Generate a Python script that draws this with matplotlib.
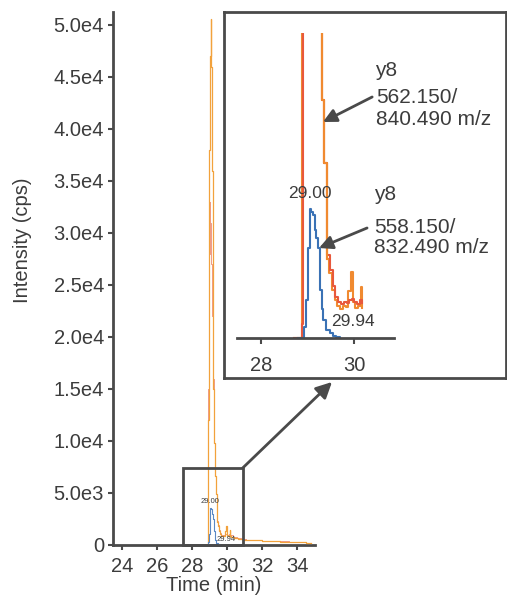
import numpy as np
import matplotlib
matplotlib.use("Agg")
import matplotlib.pyplot as plt
from matplotlib.patches import Rectangle

plt.rcParams['font.family'] = ['Liberation Sans', 'DejaVu Sans']

# ---- data ----
# orange trace (y8 562.150/840.490 m/z)
o_time = [28.70, 28.88, 28.95, 28.98, 29.02, 29.06, 29.10, 29.14, 29.18, 29.22,
          29.26, 29.31, 29.36, 29.42, 29.47, 29.52, 29.58, 29.64, 29.70, 29.76,
          29.82, 29.88, 29.93, 29.97, 30.02, 30.08, 30.14, 30.18, 30.24, 30.40,
          30.60, 30.90, 31.20, 31.60, 32.00, 32.50, 33.00, 33.50, 34.00, 34.50, 34.80]
o_int = [0, 12000, 26000, 38000, 47000, 50600, 46000, 36000, 24000, 15000,
         9800, 6630, 4880, 2200, 1800, 1350, 1050, 880, 820, 900,
         860, 1300, 1840, 1000, 850, 900, 1420, 850, 750, 650,
         580, 520, 480, 450, 400, 380, 330, 300, 260, 220, 180]

# red trace (y8 558.150/832.490 m/z)
r_time = [28.70, 28.88, 28.91, 28.95, 29.00, 29.05, 29.10, 29.15, 29.20, 29.26,
          29.31, 29.36, 29.42, 29.48, 29.54, 29.60, 29.66, 29.72, 29.78, 29.84,
          29.90, 29.95, 30.00, 30.06, 30.12, 30.17, 30.22, 30.35, 30.55, 30.80,
          31.10, 31.50, 32.00, 32.50, 33.00, 33.50, 34.00, 34.50, 34.80]
r_int = [0, 400, 15000, 28000, 33000, 31000, 27000, 22000, 16000, 9800,
         6630, 4880, 2300, 1900, 1450, 1150, 1000, 950, 1000, 980,
         1050, 1100, 1000, 960, 1050, 980, 950, 750, 650, 560,
         500, 460, 420, 380, 340, 300, 270, 230, 200]

# blue trace
b_time = [28.80, 28.92, 28.96, 29.01, 29.05, 29.08, 29.11, 29.16, 29.19, 29.22,
          29.27, 29.30, 29.33, 29.39, 29.48, 29.55, 29.62, 29.70]
b_int = [0, 300, 1060, 2510, 3600, 3500, 3430, 3010, 2800, 2510,
         1340, 800, 500, 220, 140, 60, 20, 0]

# retention time labels
rt_text = ["29.00", "29.94"]
rt_x = [29.00, 29.92]
rt_y = [4150, 570]

yticks = [0, 5000, 10000, 15000, 20000, 25000, 30000, 35000, 40000, 45000, 50000]
ytick_labels = ["0", "5.0e3", "1.0e4", "1.5e4", "2.0e4", "2.5e4", "3.0e4",
                "3.5e4", "4.0e4", "4.5e4", "5.0e4"]
xticks = [24, 26, 28, 30, 32, 34]
inset_xticks = [28, 30]

# zoom window
zx0, zx1, zy1 = 27.48, 30.88, 7400

grey = '#4a4a4a'
txt = '#3c3c3c'

fig = plt.figure(figsize=(5.07, 5.99), dpi=100)

# ---- main chromatogram ----
ax = fig.add_axes([113/507, 1-545/599, 202/507, 533/599])
ax.plot(r_time, r_int, drawstyle='steps-post', color='#f09a88', lw=0.7, zorder=2)
ax.plot(o_time, o_int, drawstyle='steps-post', color='#f2a23c', lw=0.9, zorder=3)
ax.plot(b_time, b_int, drawstyle='steps-post', color='#5a88c4', lw=0.8, zorder=4)
for s, x, y in zip(rt_text, rt_x, rt_y):
    ax.text(x, y, s, fontsize=5.5, color=txt, ha='center', va='center', zorder=5)

ax.set_xlim(23.5, 35.0)
ax.set_ylim(0, 51250)
ax.set_xticks(xticks)
ax.set_yticks(yticks)
ax.set_yticklabels(ytick_labels)
for s in ['top', 'right']:
    ax.spines[s].set_visible(False)
for s in ['left', 'bottom']:
    ax.spines[s].set_color(grey)
    ax.spines[s].set_linewidth(2)
ax.tick_params(axis='both', colors=grey, labelcolor=txt, labelsize=14.5,
               length=3.5, width=1.5)
ax.tick_params(axis='y', pad=3)
ax.tick_params(axis='x', pad=5)
ax.set_xlabel("Time (min)", fontsize=14.5, color=txt)
ax.set_ylabel("Intensity (cps)", fontsize=14.5, color=txt)
ax.xaxis.set_label_coords(0.5, -0.058)
ax.yaxis.set_label_coords(-0.40, 0.572)

ax.add_patch(Rectangle((zx0, 0), zx1 - zx0, zy1, fill=False, ec=grey, lw=2,
                       clip_on=False, zorder=6))

# arrow from zoom box to the inset
ax.annotate('', xy=(332/507, 1-382/599), xycoords='figure fraction',
            xytext=(zx1, zy1), textcoords='data', annotation_clip=False,
            arrowprops=dict(arrowstyle='-|>', color=grey, lw=2,
                            mutation_scale=24, shrinkA=0, shrinkB=0))

# ---- inset frame ----
ax_box = fig.add_axes([224/507, 1-378/599, 282/507, 366/599])
ax_box.set_xticks([])
ax_box.set_yticks([])
for s in ax_box.spines.values():
    s.set_color(grey)
    s.set_linewidth(2)

# ---- inset data ----
ax_in = fig.add_axes([237/507, 1-338/599, 157/507, 305/599])
ax_in.set_facecolor('none')
ax_in.set_xlim(27.48, 30.86)
ax_in.set_ylim(0, 8500)

o_t, o_y = np.array(o_time), np.array(o_int)
r_t, r_y = np.array(r_time), np.array(r_int)
mo, mr = o_t <= 30.2, r_t <= 30.2
ax_in.plot(o_t[mo], o_y[mo], drawstyle='steps-post', color='#f08a30', lw=1.5)
ax_in.plot(r_t[mr], r_y[mr], drawstyle='steps-post', color='#e8583c', lw=1.5)
# orange peak flank drawn again on top of the red one
ax_in.plot(o_t[10:14], o_y[10:14], drawstyle='steps-post', color='#f08a30', lw=1.5)
ax_in.plot(b_time, b_int, drawstyle='steps-post', color='#3a72b5', lw=1.5)
for s, x, y in zip(rt_text, rt_x, rt_y):
    ax_in.text(x + 0.05, y - 120, s, fontsize=12.5, color=txt, ha='center',
               va='center')

ax_in.set_xticks(inset_xticks)
ax_in.set_yticks([])
for s in ['top', 'right', 'left']:
    ax_in.spines[s].set_visible(False)
ax_in.spines['bottom'].set_color(grey)
ax_in.spines['bottom'].set_linewidth(2)
ax_in.tick_params(axis='x', colors=grey, labelcolor=txt, labelsize=14.5,
                  length=4, width=1.5, pad=9)

# transition labels and arrows
ax_in.text(30.45, 7302, "y8", fontsize=15, color=txt, va='baseline',
           clip_on=False)
ax_in.text(30.47, 6550, "562.150/", fontsize=15, color=txt, va='baseline',
           clip_on=False)
ax_in.text(30.47, 5936, "840.490 m/z", fontsize=15, color=txt, va='baseline',
           clip_on=False)
ax_in.text(30.43, 3846, "y8", fontsize=15, color=txt, va='baseline',
           clip_on=False)
ax_in.text(30.43, 2926, "558.150/", fontsize=15, color=txt, va='baseline',
           clip_on=False)
ax_in.text(30.43, 2369, "832.490 m/z", fontsize=15, color=txt, va='baseline',
           clip_on=False)

arrow = dict(arrowstyle='-|>', color=grey, lw=2, mutation_scale=20,
             shrinkA=0, shrinkB=0)
ax_in.annotate('', xy=(29.33, 6020), xytext=(30.39, 6717), arrowprops=arrow,
               annotation_clip=False)
ax_in.annotate('', xy=(29.245, 2508), xytext=(30.28, 3066), arrowprops=arrow,
               annotation_clip=False)

fig.savefig("out.png", dpi=100)
